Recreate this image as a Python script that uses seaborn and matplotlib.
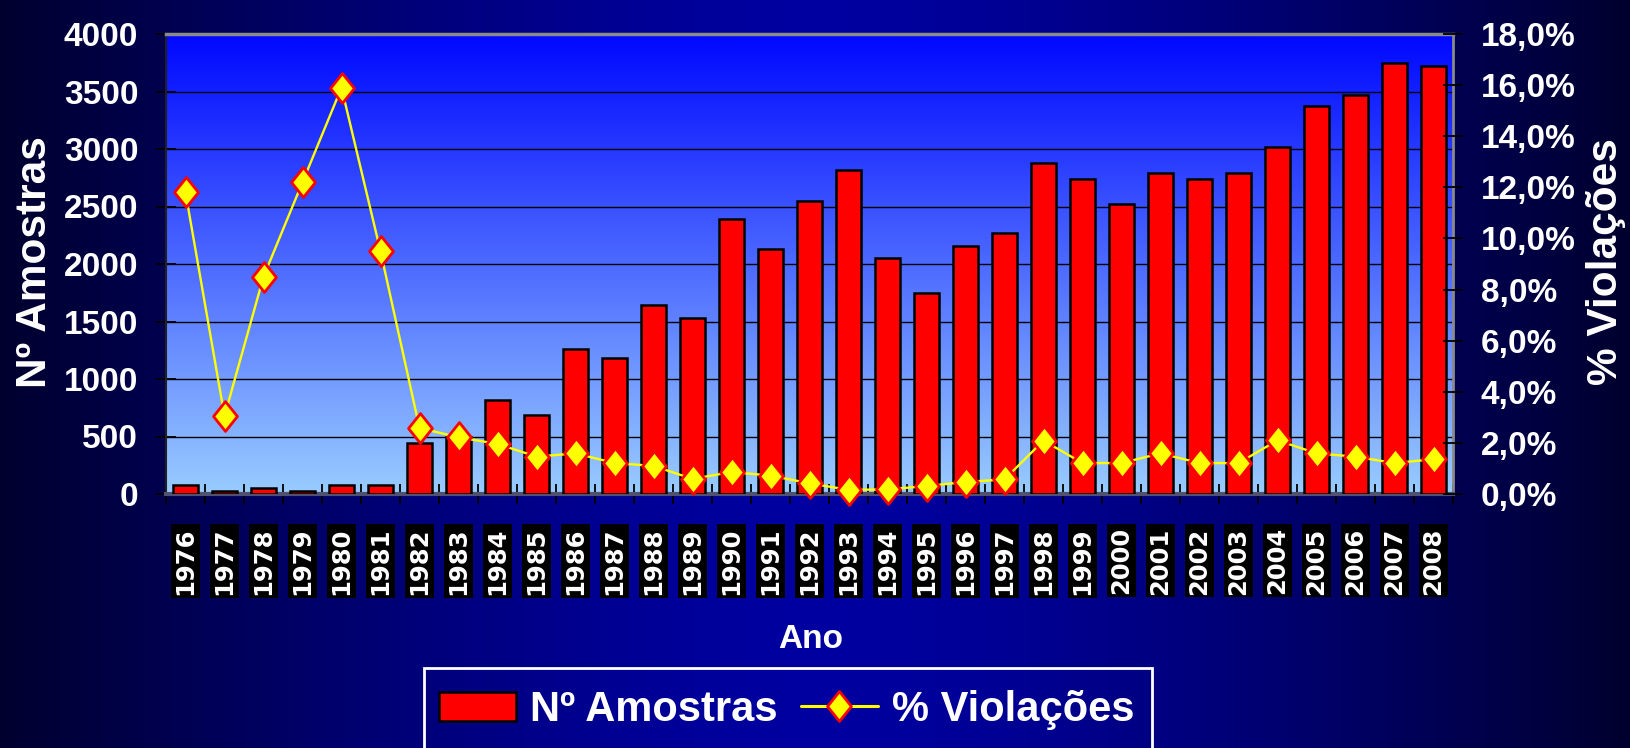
import numpy as np
import matplotlib
matplotlib.use('Agg')
import matplotlib.pyplot as plt
import seaborn as sns
from matplotlib.path import Path
from matplotlib.patches import Rectangle, Patch
from matplotlib.lines import Line2D
from matplotlib.ticker import FuncFormatter
from matplotlib import font_manager

# ---------------- data ----------------
years = [str(y) for y in range(1976, 2009)]
amostras = [80, 25, 50, 25, 80, 80, 440, 500, 820, 690, 1260, 1180, 1640, 1530,
            2390, 2130, 2550, 2820, 2050, 1750, 2160, 2270, 2880, 2740, 2520,
            2790, 2740, 2790, 3020, 3370, 3470, 3750, 3720]
violacoes = [11.8, 3.05, 8.5, 12.2, 15.9, 9.5, 2.58, 2.22, 1.96, 1.46, 1.59, 1.21,
             1.10, 0.59, 0.86, 0.72, 0.42, 0.16, 0.18, 0.31, 0.47, 0.57, 2.09,
             1.21, 1.21, 1.59, 1.21, 1.21, 2.10, 1.59, 1.46, 1.21, 1.36]
left_ticks = list(range(0, 4001, 500))
right_ticks = list(range(0, 19, 2))
label_bars = 'Nº Amostras'
label_line = '% Violações'
label_x = 'Ano'

# ---------------- style ----------------
sns.set_theme(style='white')
plt.rcParams['font.family'] = ['Liberation Sans', 'DejaVu Sans']
plt.rcParams['font.weight'] = 'bold'
avail = {f.name for f in font_manager.fontManager.ttflist}
narrow = 'Liberation Sans Narrow' in avail

W, H = 1630, 748
fig = plt.figure(figsize=(W / 100, H / 100), dpi=100)

# figure background gradient (dark edges, brighter centre)
bgax = fig.add_axes([0, 0, 1, 1], zorder=-5)
xx = np.linspace(0, 1, 600)
t = np.abs(2 * xx - 1)
b = 0.18 + 0.45 * (1 - t ** 1.5)
img = np.zeros((2, xx.size, 3))
img[..., 2] = b
bgax.imshow(img, aspect='auto', extent=[0, 1, 0, 1])
bgax.set_axis_off()

# plot area position
L, R, T, B = 166, 1453, 34, 494
pos = [L / W, 1 - B / H, (R - L) / W, (B - T) / H]

gax = fig.add_axes(pos, zorder=-4)
yy = np.linspace(0, 1, 256)[:, None]
top = np.array([0.0, 0.03, 1.0])
bot = np.array([0.60, 0.80, 1.0])
grad = top[None, None, :] * (1 - yy[..., None]) + bot[None, None, :] * yy[..., None]
grad = np.repeat(grad, 2, axis=1)
gax.imshow(grad, aspect='auto', extent=[0, 1, 0, 1])
gax.set_axis_off()

ax = fig.add_axes(pos)
ax.patch.set_visible(False)

sns.barplot(x=years, y=amostras, ax=ax, color='#FF0000', saturation=1,
            edgecolor='black', linewidth=1.8, width=0.65, zorder=3)

ax2 = ax.twinx()
diamond = Path([(0, 1), (0.8, 0), (0, -1), (-0.8, 0), (0, 1)],
               [Path.MOVETO, Path.LINETO, Path.LINETO, Path.LINETO, Path.CLOSEPOLY])
sns.pointplot(x=years, y=violacoes, ax=ax2, color='#FFFF00', errorbar=None,
              marker=diamond, markersize=21.5, markerfacecolor='#FFFF00',
              markeredgecolor='#FF0000', markeredgewidth=2.0, linewidth=1.7)
for ln in ax2.lines:
    ln.set_clip_on(False)

ax.set_xlim(-0.5, len(years) - 0.5)
ax.set_ylim(0, 4000)
ax2.set_ylim(0, 18)

# grid
ax.set_axisbelow(True)
ax.yaxis.grid(True, color='black', linewidth=1.0)
ax.xaxis.grid(False)
ax2.grid(False)

# y ticks
ax.set_yticks(left_ticks)
ax.tick_params(axis='y', left=True, direction='inout', length=15, width=1.3,
               color='black', labelsize=24, labelcolor='white', pad=12.5)
ax2.set_yticks(right_ticks)
ax2.yaxis.set_major_formatter(FuncFormatter(lambda v, p: f"{v:.1f}%".replace('.', ',')))
ax2.tick_params(axis='y', right=True, direction='inout', length=15, width=1.3,
                color='black', labelsize=24, labelcolor='white', pad=12.5)

# x ticks
ax.set_xticks(np.arange(-0.5, len(years), 1), minor=True)
ax.tick_params(axis='x', which='major', bottom=True, length=0, pad=24,
               labelsize=17.5, labelcolor='white', labelrotation=90)
ax.tick_params(axis='x', which='minor', bottom=True, direction='inout',
               length=14, width=1.3, color='black')
for lab in ax.get_xticklabels():
    lab.set_fontweight('bold')
    lab.set_family(['DejaVu Sans'])
    lab.set_bbox(dict(boxstyle='square,pad=0.12', fc='black', ec='none'))

# spines
for s in ax2.spines.values():
    s.set_visible(False)
ax.spines['top'].set_color('#8a8a8a'); ax.spines['top'].set_linewidth(2.5)
ax.spines['right'].set_color('#8a8a8a'); ax.spines['right'].set_linewidth(2.0)
ax.spines['left'].set_color('#202020'); ax.spines['left'].set_linewidth(1.5)
ax.spines['bottom'].set_color('#505070'); ax.spines['bottom'].set_linewidth(3)

# labels
ax.set_ylabel(label_bars, fontsize=30.5, color='white', fontweight='bold')
ax.yaxis.label.set_va('center')
ax.yaxis.set_label_coords(-(166 - 35) / (R - L), 0.505)
ax2.set_ylabel(label_line, fontsize=30.5, color='white', fontweight='bold', rotation=90)
ax2.yaxis.label.set_va('center')
ax2.yaxis.set_label_coords((1606 - 166) / (R - L), 0.505)
ax.set_xlabel(label_x, fontsize=24, color='white', fontweight='bold')
ax.xaxis.label.set_va('center')
ax.xaxis.set_label_coords((811 - 166) / (R - L), -(640 - 494) / (B - T))

# legend
if narrow:
    lprop = dict(family='Liberation Sans Narrow', weight='bold', size=37)
    fpx = 37 * 100 / 72
else:
    lprop = dict(family='Liberation Sans', weight='bold', size=30)
    fpx = 30 * 100 / 72
handles = [
    Patch(facecolor='#FF0000', edgecolor='black', linewidth=1.8, label=label_bars),
    Line2D([], [], color='#FFFF00', lw=2.2, marker=diamond, markersize=21.5,
           markerfacecolor='#FFFF00', markeredgecolor='#FF0000', markeredgewidth=2.0,
           label=label_line),
]
leg = fig.legend(handles=handles, loc='center', bbox_to_anchor=(786.5 / W, 1 - 710 / H),
                 ncol=2, frameon=False, prop=lprop, labelcolor='white',
                 handlelength=77 / fpx, handleheight=29 / fpx,
                 handletextpad=14 / fpx, columnspacing=23 / fpx)
fig.add_artist(Rectangle((424 / W, -0.05), (1152 - 424) / W, (748 - 668) / H + 0.05,
                         transform=fig.transFigure, fill=False, ec='white', lw=2))

fig.savefig('out.png', dpi=100)
